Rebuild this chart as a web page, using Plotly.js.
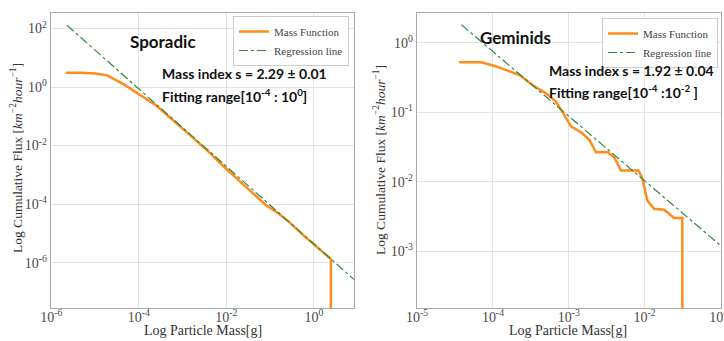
<!DOCTYPE html>
<html>
<head>
<meta charset="utf-8">
<script src="https://cdn.plot.ly/plotly-3.0.1.min.js"></script>
<style>html,body{margin:0;padding:0;background:#fff;}#chart{width:724px;height:341px;}</style>
</head>
<body>
<div id="chart"></div>
<script>
// Sporadic – cumulative mass function
const sporMass = [2.14e-6, 5.0e-6, 1.0e-5, 1.9e-5, 4.57e-5, 1.0e-4, 2.5e-4, 1.0e-3, 4.0e-3, 1.0e-2, 3.16e-2, 7.9e-2, 0.158, 0.28, 0.63, 1.58, 2.43, 2.43];
const sporFlux = [3.09, 3.09, 2.88, 2.51, 1.23, 0.59, 0.234, 0.038, 6.0e-3, 1.58e-3, 3.16e-4, 9.3e-5, 4.7e-5, 2.34e-5, 7.6e-6, 2.3e-6, 1.32e-6, 1e-8];
// Sporadic – regression line end points
const sporRegMass = [2.29e-6, 10.0];
const sporRegFlux = [129, 2.05e-7];

// Geminids – cumulative mass function
const gemMass = [3.57e-5, 7.03e-5, 1.11e-4, 1.66e-4, 2.24e-4, 3.36e-4, 5.05e-4, 6.82e-4, 8.34e-4, 1.08e-3, 1.46e-3, 1.87e-3, 2.29e-3, 3.26e-3, 3.99e-3, 4.89e-3, 8.34e-3, 9.42e-3, 1.09e-2, 1.34e-2, 1.82e-2, 2.46e-2, 3.16e-2, 3.16e-2];
const gemFlux = [0.525, 0.525, 0.457, 0.385, 0.344, 0.245, 0.186, 0.141, 0.1, 0.0622, 0.0515, 0.04, 0.0265, 0.0265, 0.0225, 0.0145, 0.0145, 0.011, 5.35e-3, 4.06e-3, 3.93e-3, 3.0e-3, 3.0e-3, 1e-5];
// Geminids – regression line end points
const gemRegMass = [3.84e-5, 0.126];
const gemRegFlux = [1.82, 9.8e-4];

// Tick values and labels
const sporXTicks = [1e-6, 1e-4, 1e-2, 1];
const sporXLabels = ['10<sup>-6</sup>', '10<sup>-4</sup>', '10<sup>-2</sup>', '10<sup>0</sup>'];
const sporYTicks = [1e2, 1, 1e-2, 1e-4, 1e-6];
const sporYLabels = ['10<sup>2</sup>', '10<sup>0</sup>', '10<sup>-2</sup>', '10<sup>-4</sup>', '10<sup>-6</sup>'];
const gemXTicks = [1e-5, 1e-4, 1e-3, 1e-2, 1e-1];
const gemXLabels = ['10<sup>-5</sup>', '10<sup>-4</sup>', '10<sup>-3</sup>', '10<sup>-2</sup>', '10<sup>-1</sup>'];
const gemYTicks = [1, 1e-1, 1e-2, 1e-3];
const gemYLabels = ['10<sup>0</sup>', '10<sup>-1</sup>', '10<sup>-2</sup>', '10<sup>-3</sup>'];

const seriesNames = ['Mass Function', 'Regression line'];
const panelTitles = ['Sporadic', 'Geminids'];
const xTitle = 'Log Particle Mass[g]';
const yTitle = 'Log Cumulative Flux [<i>km</i><sup>−2</sup><i>hour</i><sup>−1</sup>]';

const orange = '#ff8c1a';
const green = '#2e8b3a';
const serif = 'Liberation Serif, Times New Roman, serif';
const sans = 'Lato, Open Sans, sans-serif';

const traces = [
  {x: sporMass, y: sporFlux, xaxis: 'x', yaxis: 'y', mode: 'lines', name: seriesNames[0], legend: 'legend',
   line: {color: orange, width: 2.5}},
  {x: sporRegMass, y: sporRegFlux, xaxis: 'x', yaxis: 'y', mode: 'lines', name: seriesNames[1], legend: 'legend',
   line: {color: green, width: 1.2, dash: 'dashdot'}},
  {x: gemMass, y: gemFlux, xaxis: 'x2', yaxis: 'y2', mode: 'lines', name: seriesNames[0], legend: 'legend2',
   line: {color: orange, width: 2.5}},
  {x: gemRegMass, y: gemRegFlux, xaxis: 'x2', yaxis: 'y2', mode: 'lines', name: seriesNames[1], legend: 'legend2',
   line: {color: green, width: 1.2, dash: 'dashdot'}}
];

const axisBase = {
  type: 'log', showline: true, mirror: true, linecolor: '#a8a8a8', linewidth: 1.2,
  gridcolor: '#e3e3e3', zeroline: false, tickmode: 'array', ticklabeloverflow: 'allow',
  tickfont: {family: serif, size: 14, color: '#4a4a4a'}, ticks: '', showgrid: true
};

const legendBase = {
  font: {family: serif, size: 11, color: '#444'}, bgcolor: 'rgba(255,255,255,0.9)',
  bordercolor: '#cccccc', borderwidth: 1, xanchor: 'right', yanchor: 'top',
  tracegroupgap: 0, itemwidth: 30
};

const W = 670, H = 295, L = 51, T = 13;
const px = v => (v - L) / W;
const py = v => 1 - (v - T) / H;

const bold = {family: sans, size: 14, color: '#111', weight: 'bold'};
const annotations = [
  {text: panelTitles[0], x: px(163), y: py(41), font: {family: sans, size: 17, color: '#111', weight: 'bold'}, xanchor: 'center'},
  {text: 'Mass index s = 2.29 ± 0.01', x: px(160), y: py(74), font: bold, xanchor: 'left'},
  {text: 'Fitting range[10<sup>-4</sup> : 10<sup>0</sup>]', x: px(160), y: py(95), font: bold, xanchor: 'left'},
  {text: panelTitles[1], x: px(515), y: py(37), font: {family: sans, size: 17, color: '#111', weight: 'bold'}, xanchor: 'center'},
  {text: 'Mass index s = 1.92 ± 0.04', x: px(547), y: py(70), font: bold, xanchor: 'left'},
  {text: 'Fitting range[10<sup>-4</sup> :10<sup>-2</sup> ]', x: px(547), y: py(91), font: bold, xanchor: 'left'},
  {text: xTitle, x: px(203), y: py(330), font: {family: serif, size: 14, color: '#333'}, xanchor: 'center'},
  {text: xTitle, x: px(568), y: py(330), font: {family: serif, size: 14, color: '#333'}, xanchor: 'center'},
  {text: yTitle, x: px(16), y: py(158), textangle: -90, font: {family: serif, size: 13.5, color: '#333'}, xanchor: 'center'},
  {text: yTitle, x: px(379), y: py(160), textangle: -90, font: {family: serif, size: 13.5, color: '#333'}, xanchor: 'center'}
].map(a => Object.assign({xref: 'paper', yref: 'paper', showarrow: false, yanchor: 'middle'}, a));

const layout = {
  width: 724, height: 341,
  margin: {l: L, r: 3, t: T, b: 33},
  paper_bgcolor: '#fff', plot_bgcolor: '#fff',
  showlegend: true,
  xaxis: Object.assign({}, axisBase, {domain: [0, 0.452], range: [-6.005, 0.91], tickvals: sporXTicks, ticktext: sporXLabels, anchor: 'y', ticklabelstandoff: -4}),
  yaxis: Object.assign({}, axisBase, {domain: [0, 1], range: [-7.55, 2.53], tickvals: sporYTicks, ticktext: sporYLabels, anchor: 'x'}),
  xaxis2: Object.assign({}, axisBase, {domain: [0.546, 1], range: [-5.005, -0.99], tickvals: gemXTicks, ticktext: gemXLabels, anchor: 'y2', ticklabelstandoff: -4}),
  yaxis2: Object.assign({}, axisBase, {domain: [0, 1], range: [-3.82, 0.43], tickvals: gemYTicks, ticktext: gemYLabels, anchor: 'x2'}),
  legend: Object.assign({}, legendBase, {x: px(349), y: py(16)}),
  legend2: Object.assign({}, legendBase, {x: px(718), y: py(18)}),
  annotations: annotations
};

Plotly.newPlot('chart', traces, layout, {staticPlot: true, displayModeBar: false});
</script>
</body>
</html>
